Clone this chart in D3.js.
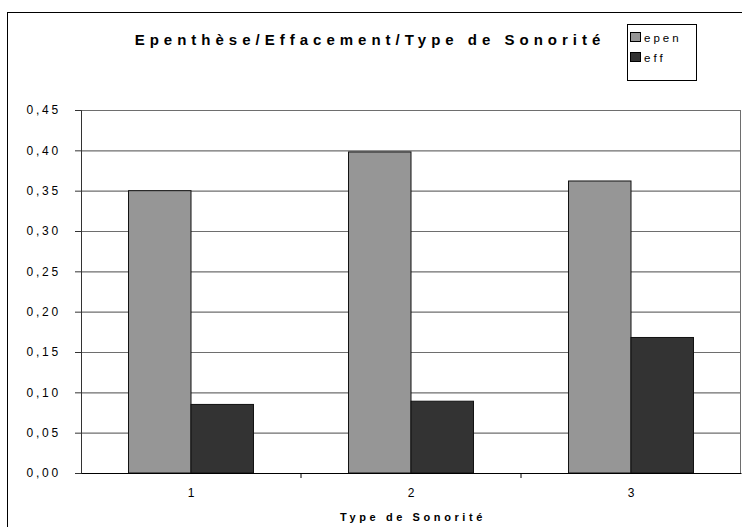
<!DOCTYPE html>
<html>
<head>
<meta charset="utf-8">
<script src="https://cdn.jsdelivr.net/npm/d3@7"></script>
<style>
  body { margin: 0; background: #fff; }
  svg { display: block; font-family: "Liberation Sans", Arial, sans-serif; }
</style>
</head>
<body>
<div id="chart"></div>
<script>
// chart data
const categories = ["1", "2", "3"];
const seriesNames = ["epen", "eff"];
const epenValues = [0.350, 0.398, 0.362];
const effValues = [0.085, 0.089, 0.168];
const yTicks = [0, 0.05, 0.10, 0.15, 0.20, 0.25, 0.30, 0.35, 0.40, 0.45];
const colors = { epen: "#969696", eff: "#333333" };

const width = 742, height = 527;
const margin = { top: 110, right: 1, bottom: 54, left: 81 };
const innerW = width - margin.left - margin.right;
const innerH = height - margin.top - margin.bottom;

const svg = d3.select("#chart").append("svg")
    .attr("width", width)
    .attr("height", height);

// outer frame (cropped on the right / bottom)
svg.append("rect")
    .attr("x", 7.5).attr("y", 12.5)
    .attr("width", 760).attr("height", 540)
    .attr("fill", "none")
    .attr("stroke", "#000")
    .attr("stroke-width", 1);

const g = svg.append("g")
    .attr("transform", `translate(${margin.left},${margin.top})`);

const x0 = d3.scaleBand().domain(categories).range([0, innerW]).paddingInner(0).paddingOuter(0);
const x1 = d3.scaleBand().domain(seriesNames).range([x0.bandwidth() * 0.216, x0.bandwidth() * 0.784]);
const y = d3.scaleLinear().domain([0, 0.45]).range([innerH, 0]);

const fmt = v => d3.format(".2f")(v).replace(".", ",");

// grid lines
g.append("g")
    .attr("class", "y-grid")
    .call(d3.axisLeft(y).tickValues(yTicks).tickSize(-innerW).tickFormat(""))
    .call(s => s.select(".domain").remove())
    .selectAll("line")
    .attr("stroke", "#6e6e6e")
    .attr("stroke-width", 1.2);

// plot area right edge
g.append("line")
    .attr("x1", innerW - 0.5).attr("x2", innerW - 0.5)
    .attr("y1", 0).attr("y2", innerH)
    .attr("stroke", "#6e6e6e");

// bars
const data = categories.map((c, i) => ({ cat: c, epen: epenValues[i], eff: effValues[i] }));
const groups = g.selectAll(".grp")
    .data(data)
    .enter().append("g")
    .attr("class", "grp")
    .attr("transform", d => `translate(${x0(d.cat)},0)`);

groups.selectAll("rect")
    .data(d => seriesNames.map(k => ({ key: k, value: d[k] })))
    .enter().append("rect")
    .attr("x", d => x1(d.key))
    .attr("y", d => y(d.value))
    .attr("width", x1.bandwidth())
    .attr("height", d => innerH - y(d.value))
    .attr("fill", d => colors[d.key])
    .attr("stroke", "#111")
    .attr("stroke-width", 1);

// y axis
const yAxis = g.append("g")
    .call(d3.axisLeft(y).tickValues(yTicks).tickSize(6).tickPadding(14).tickFormat(fmt));
yAxis.select(".domain").attr("stroke", "#333");
yAxis.selectAll("line").attr("stroke", "#333");
yAxis.selectAll("text")
    .style("font-size", "12px")
    .style("letter-spacing", "2.8px")
    .attr("fill", "#000");

// x axis
const xAxis = g.append("g")
    .attr("transform", `translate(0,${innerH})`)
    .call(d3.axisBottom(x0).tickSize(0).tickPadding(15));
xAxis.select(".domain").attr("stroke", "#000");
xAxis.selectAll("text")
    .style("font-size", "12px")
    .attr("fill", "#000");

// category separators on x axis
g.append("g")
    .selectAll("line")
    .data(categories.slice(1))
    .enter().append("line")
    .attr("x1", d => x0(d)).attr("x2", d => x0(d))
    .attr("y1", innerH).attr("y2", innerH + 5)
    .attr("stroke", "#000");

// title
svg.append("text")
    .attr("x", 370)
    .attr("y", 45)
    .attr("text-anchor", "middle")
    .style("font-size", "15px")
    .style("font-weight", "bold")
    .style("letter-spacing", "5px")
    .text("Epenthèse/Effacement/Type de Sonorité");

// x axis title
svg.append("text")
    .attr("x", 413)
    .attr("y", 521)
    .attr("text-anchor", "middle")
    .style("font-size", "11px")
    .style("font-weight", "bold")
    .style("letter-spacing", "3.6px")
    .text("Type de Sonorité");

// legend
const legend = svg.append("g").attr("transform", "translate(627,24)");
legend.append("rect")
    .attr("x", 0.5).attr("y", 0.5)
    .attr("width", 69).attr("height", 56)
    .attr("fill", "#fff")
    .attr("stroke", "#000");
seriesNames.forEach((k, i) => {
    legend.append("rect")
        .attr("x", 3.5).attr("y", 8.5 + i * 20)
        .attr("width", 10).attr("height", 9)
        .attr("fill", colors[k])
        .attr("stroke", "#000");
    legend.append("text")
        .attr("x", 17).attr("y", 18 + i * 20)
        .style("font-size", "11.5px")
        .style("letter-spacing", "3px")
        .text(k);
});
</script>
</body>
</html>
